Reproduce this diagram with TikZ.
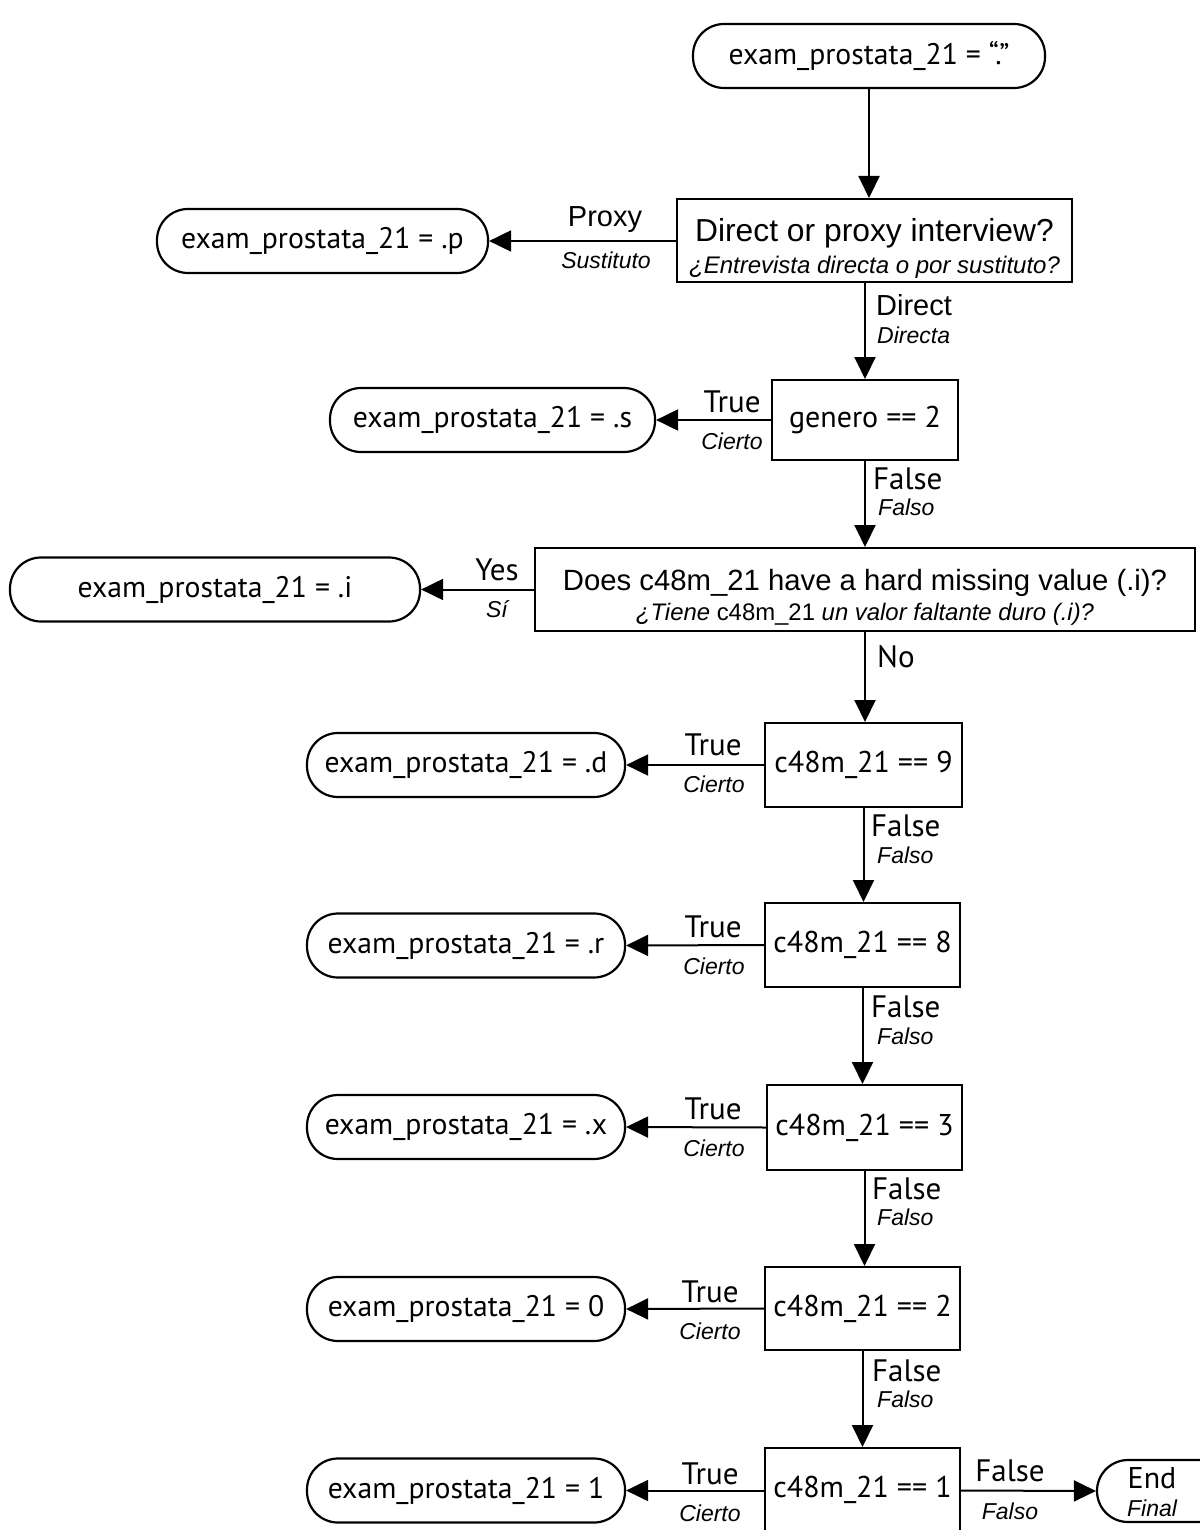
\documentclass[tikz,border=0pt]{standalone}
\usepackage{fontspec}
\setmainfont{Liberation Sans}
\newfontfamily\myr{PT Sans}
\usetikzlibrary{arrows.meta}
\tikzset{
  term/.style={draw, line width=2.2pt, rounded corners=31pt, minimum height=64pt, inner sep=0pt, font=\myr\fontsize{29.7}{32}\selectfont},
  dec/.style={draw, line width=2pt, inner sep=0pt, align=center},
  cond/.style={dec, font=\myr\fontsize{30}{32}\selectfont},
  arr/.style={line width=2pt, -{Triangle[length=22pt,width=21pt]}},
  up/.style={inner sep=0pt, font=\myr\fontsize{31}{33}\selectfont},
  upa/.style={inner sep=0pt, font=\fontsize{29}{31}\selectfont},
  it/.style={inner sep=0pt, font=\itshape\fontsize{23}{25}\selectfont},
}
\begin{document}
\begin{tikzpicture}[x=1pt,y=-1pt]
\useasboundingbox (0,0) rectangle (1199,1530);
\fill[white] (0,0) rectangle (1199,1530);
% nodes
\node[term, minimum width=352pt] (start) at (869,56) {exam\_prostata\_21 = “.”};
\node[dec, minimum width=395pt, minimum height=83pt, font=\fontsize{24}{32}\selectfont] (d1) at (874.5,240.5)
  {{\fontsize{31.8}{32}\selectfont\rule{0pt}{39pt}Direct or proxy interview?}\\{\itshape ¿Entrevista directa o por sustituto?}};
\node[term, minimum width=331pt] (tp) at (322.5,241) {exam\_prostata\_21 = .p};
\node[cond, minimum width=186pt, minimum height=80pt] (d2) at (865,420) {genero == 2};
\node[term, minimum width=325pt] (ts) at (492.5,420) {exam\_prostata\_21 = .s};
\node[dec, minimum width=660pt, minimum height=83pt, font=\fontsize{23.9}{30}\selectfont] (d3) at (865,589.5)
  {{\fontsize{29.3}{30}\selectfont\rule{0pt}{36pt}Does c48m\_21 have a hard missing value (.i)?}\\\textit{¿Tiene} c48m\_21 \textit{un valor faltante duro (.i)?}};
\node[term, minimum width=410pt] (ti) at (215,589.5) {exam\_prostata\_21 = .i};
\node[cond, minimum width=197pt, minimum height=84pt] (d4) at (863.5,765) {c48m\_21 == 9};
\node[term, minimum width=318pt] (td) at (466,765) {exam\_prostata\_21 = .d};
\node[cond, minimum width=195pt, minimum height=84pt] (d5) at (862.5,945) {c48m\_21 == 8};
\node[term, minimum width=318pt] (tr) at (466,945.5) {exam\_prostata\_21 = .r};
\node[cond, minimum width=195pt, minimum height=85pt] (d6) at (864.5,1127.5) {c48m\_21 == 3};
\node[term, minimum width=318pt] (tx) at (466,1127) {exam\_prostata\_21 = .x};
\node[cond, minimum width=195pt, minimum height=83pt] (d7) at (862.5,1308.5) {c48m\_21 == 2};
\node[term, minimum width=318pt] (t0) at (466,1309) {exam\_prostata\_21 = 0};
\node[dec, minimum width=195pt, minimum height=88pt] (d8) at (862.5,1492) {};
\node[inner sep=0pt, font=\myr\fontsize{30}{32}\selectfont] (d8t) at (862.5,1490) {c48m\_21 == 1};
\node[term, minimum width=318pt] (t1) at (466,1490.5) {exam\_prostata\_21 = 1};
\node[term, minimum width=160pt, minimum height=62pt] (tend) at (1177,1491) {};
\node[inner sep=0pt, font=\myr\fontsize{30}{32}\selectfont] (tendA) at (1152,1478) {End};
\node[it] (tendB) at (1152,1508) {Final};
% connectors
\draw[arr] (start.south) -- (start.south |- d1.north);
\draw[arr] (d1.west |- tp.east) -- (tp.east);
\draw[arr] (d1.south -| d2.north) -- (d2.north);
\draw[arr] (d2.west) -- (ts.east);
\draw[arr] (d2.south) -- (d2.south |- d3.north);
\draw[arr] (d3.west) -- (ti.east);
\draw[arr] (d3.south) -- (d3.south |- d4.north);
\draw[arr] (d4.west) -- (td.east);
\draw[arr] (d4.south) -- (d4.south |- d5.north);
\draw[arr] (d5.west) -- (tr.east);
\draw[arr] (d5.south) -- (d5.south |- d6.north);
\draw[arr] (d6.west) -- (tx.east);
\draw[arr] (d6.south) -- (d6.south |- d7.north);
\draw[arr] (d7.west) -- (t0.east);
\draw[arr] (d7.south) -- (d7.south |- d8.north);
\draw[arr] (d8.west |- t1.east) -- (t1.east);
\draw[arr] (d8.east |- t1.east) -- (tend.west);
% labels
\node[upa] (l1a) at (605,220) {Proxy};
\node[it] (l1b) at (606,260) {Sustituto};
\node[upa, anchor=west] (l2a) at (876,305) {Direct};
\node[it, anchor=west] (l2b) at (877,335) {Directa};
\node[up] (l3a) at (732,402) {True};
\node[it] (l3b) at (732,441) {Cierto};
\node[up, anchor=west] (l4a) at (873,479) {False};
\node[it, anchor=west] (l4b) at (878,507) {Falso};
\node[up] (l5a) at (497,570) {Yes};
\node[it] (l5b) at (497,609) {Sí};
\node[up, anchor=west] (l6a) at (877,657) {No};
\node[up] (l7a) at (713,745) {True};
\node[it] (l7b) at (714,784) {Cierto};
\node[up, anchor=west] (l8a) at (871,826) {False};
\node[it, anchor=west] (l8b) at (877,855) {Falso};
\node[up] (l9a) at (713,927) {True};
\node[it] (l9b) at (714,966) {Cierto};
\node[up, anchor=west] (l10a) at (871,1007) {False};
\node[it, anchor=west] (l10b) at (877,1036) {Falso};
\node[up] (l11a) at (713,1109) {True};
\node[it] (l11b) at (714,1148) {Cierto};
\node[up, anchor=west] (l12a) at (872,1189) {False};
\node[it, anchor=west] (l12b) at (877,1217) {Falso};
\node[up] (l13a) at (710,1292) {True};
\node[it] (l13b) at (710,1331) {Cierto};
\node[up, anchor=west] (l14a) at (872,1371) {False};
\node[it, anchor=west] (l14b) at (877,1399) {Falso};
\node[up] (l15a) at (710,1474) {True};
\node[it] (l15b) at (710,1513) {Cierto};
\node[up] (l16a) at (1010,1471) {False};
\node[it] (l16b) at (1010,1511) {Falso};
\end{tikzpicture}
\end{document}
